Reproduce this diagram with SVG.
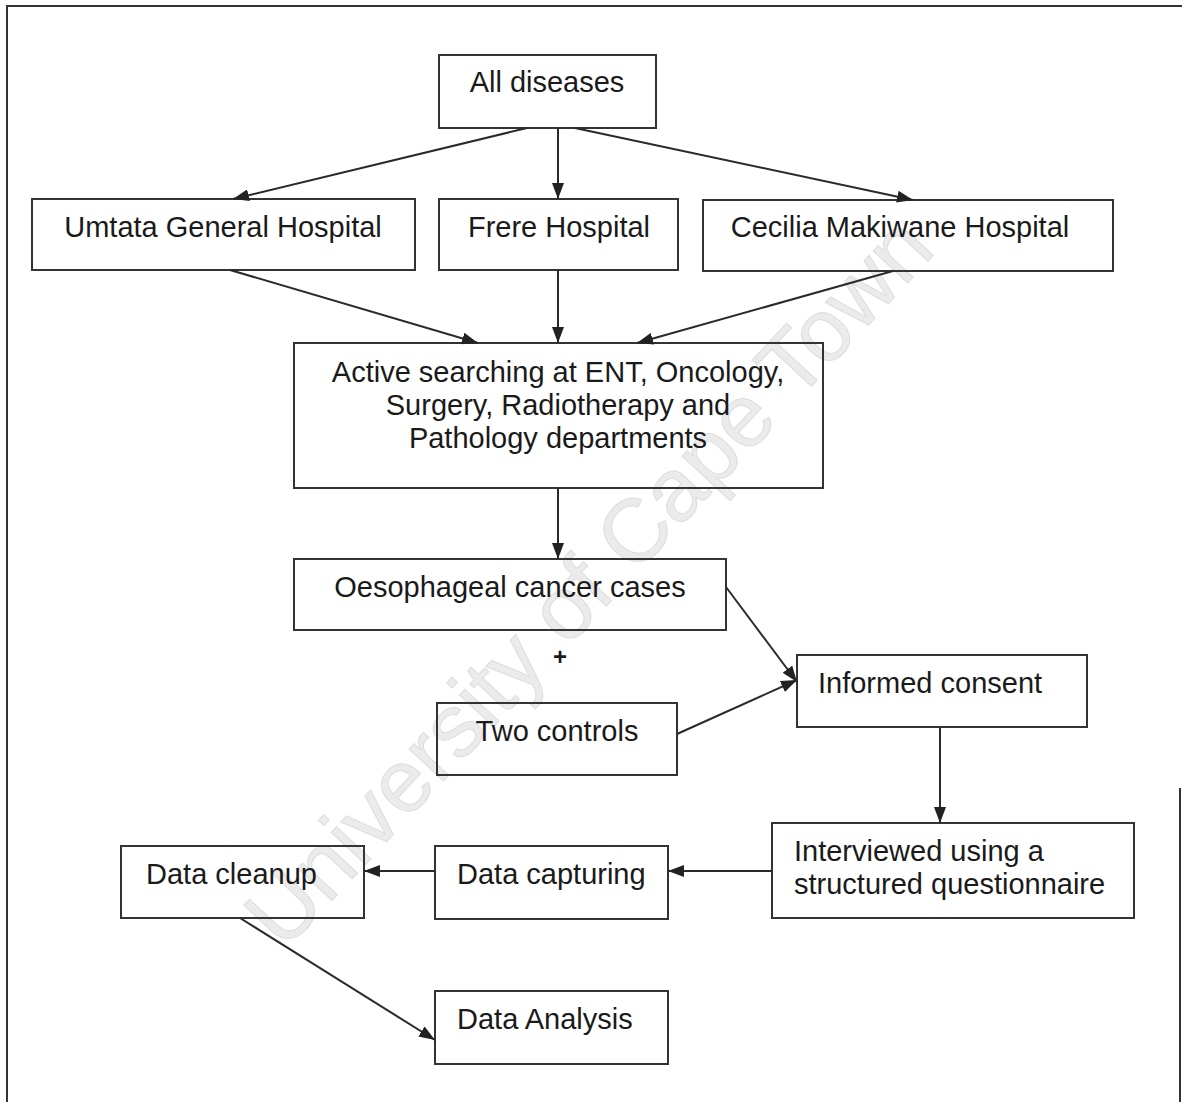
<svg xmlns="http://www.w3.org/2000/svg" width="1182" height="1102" viewBox="0 0 1182 1102">
<defs>
<marker id="ah" viewBox="0 0 16 12" refX="16" refY="6" markerWidth="16" markerHeight="12" markerUnits="userSpaceOnUse" orient="auto">
<path d="M0,0 L16,6 L0,12 Z" fill="#222"/>
</marker>
<style>
.box{fill:none;stroke:#333;stroke-width:2}
.t{font-family:"Liberation Sans",Arial,sans-serif;font-size:29px;fill:#1a1a1a}
.c{text-anchor:middle}
.edge{stroke:#2a2a2a;stroke-width:2;fill:none;marker-end:url(#ah)}
.wm{font-family:"Liberation Sans",Arial,sans-serif;font-size:89px;fill:#ebebeb;stroke:#dddddd;stroke-width:1}
</style>
</defs>
<rect width="1182" height="1102" fill="#fff"/>
<text class="wm" transform="translate(284,952) rotate(-47)">University of Cape Town</text>
<g id="frame" fill="none" stroke="#333" stroke-width="2">
<path d="M7,1102 V6 H1182"/>
<path d="M1180,788 V1102"/>
</g>
<g id="n-all"><rect class="box" x="439" y="55" width="217" height="73"/><text class="t c" x="547" y="92">All diseases</text></g>
<g id="n-umtata"><rect class="box" x="32" y="199" width="383" height="71"/><text class="t c" x="223" y="237">Umtata General Hospital</text></g>
<g id="n-frere"><rect class="box" x="439" y="199" width="239" height="71"/><text class="t c" x="559" y="237">Frere Hospital</text></g>
<g id="n-cecilia"><rect class="box" x="703" y="200" width="410" height="71"/><text class="t c" x="900" y="237">Cecilia Makiwane Hospital</text></g>
<g id="n-active"><rect class="box" x="294" y="343" width="529" height="145"/>
<text class="t c" x="558" y="382">Active searching at ENT, Oncology,</text>
<text class="t c" x="558" y="415">Surgery, Radiotherapy and</text>
<text class="t c" x="558" y="448">Pathology departments</text></g>
<g id="n-oeso"><rect class="box" x="294" y="559" width="432" height="71"/><text class="t c" x="510" y="597">Oesophageal cancer cases</text></g>
<g id="n-plus"><text class="t c" x="560" y="665" style="font-size:24px;font-weight:bold">+</text></g>
<g id="n-controls"><rect class="box" x="437" y="703" width="240" height="72"/><text class="t c" x="557" y="741">Two controls</text></g>
<g id="n-consent"><rect class="box" x="797" y="655" width="290" height="72"/><text class="t" x="818" y="693">Informed consent</text></g>
<g id="n-interview"><rect class="box" x="772" y="823" width="362" height="95"/>
<text class="t" x="794" y="861">Interviewed using a</text>
<text class="t" x="794" y="894">structured questionnaire</text></g>
<g id="n-capture"><rect class="box" x="435" y="846" width="233" height="73"/><text class="t" x="457" y="884">Data capturing</text></g>
<g id="n-cleanup"><rect class="box" x="121" y="846" width="243" height="72"/><text class="t" x="146" y="884">Data cleanup</text></g>
<g id="n-analysis"><rect class="box" x="435" y="991" width="233" height="73"/><text class="t" x="457" y="1029">Data Analysis</text></g>
<g id="connectors">
<line class="edge" x1="527" y1="128" x2="233" y2="199"/>
<line class="edge" x1="558" y1="128" x2="558" y2="199"/>
<line class="edge" x1="575" y1="128" x2="913" y2="200"/>
<line class="edge" x1="230" y1="270" x2="478" y2="343"/>
<line class="edge" x1="558" y1="270" x2="558" y2="343"/>
<line class="edge" x1="893" y1="271" x2="637" y2="343"/>
<line class="edge" x1="558" y1="488" x2="558" y2="559"/>
<line class="edge" x1="726" y1="587" x2="797" y2="682"/>
<line class="edge" x1="677" y1="734" x2="797" y2="680"/>
<line class="edge" x1="940" y1="727" x2="940" y2="823"/>
<line class="edge" x1="772" y1="871" x2="668" y2="871"/>
<line class="edge" x1="435" y1="871" x2="364" y2="871"/>
<line class="edge" x1="240" y1="918" x2="435" y2="1040"/>
</g>
</svg>
